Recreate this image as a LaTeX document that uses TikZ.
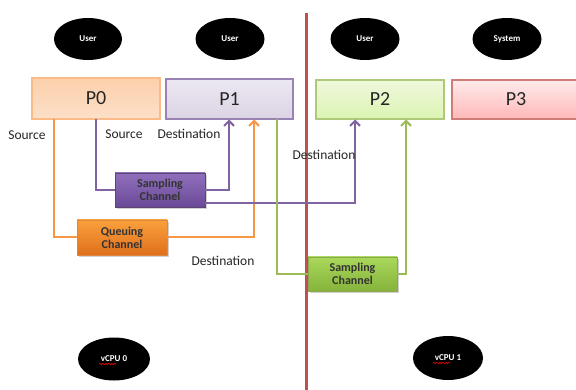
\documentclass[tikz,border=0pt]{standalone}
\usepackage{fontspec}
\setmainfont{Carlito}
\usetikzlibrary{arrows.meta,shapes.geometric,shadows,decorations.pathmorphing}
\definecolor{orgline}{HTML}{F79646}
\definecolor{purline}{HTML}{8064A2}
\definecolor{grnline}{HTML}{9BBB59}
\definecolor{redline}{HTML}{C0504D}
\definecolor{ptwotop}{HTML}{EEF8DC}
\definecolor{ptwobot}{HTML}{DCF4B2}
\definecolor{gchtop}{HTML}{A9D85A}
\definecolor{gchbot}{HTML}{86B33C}
\definecolor{ochtop}{HTML}{FAA03C}
\definecolor{ochbot}{HTML}{DF6F1C}
\definecolor{pchtop}{HTML}{9070BC}
\definecolor{pchbot}{HTML}{6A4A96}
\tikzset{
  x=1pt, y=-1pt,
  cpu/.style={ellipse, fill=black, text=white, font=\bfseries\fontsize{9}{10}\selectfont, inner sep=0pt},
  part/.style={draw, line width=1.2pt, inner sep=0pt, font=\fontsize{20}{22}\selectfont, text=black!85},
  chan/.style={draw, line width=0.8pt, inner sep=0pt, font=\bfseries\fontsize{12}{13}\selectfont, align=center,
    text=black!80, drop shadow={shadow xshift=1.5pt, shadow yshift=-1.8pt, opacity=0.35}},
  link/.style={line width=2pt},
  tip/.style={-{Straight Barb[length=5pt,width=10pt,line width=2pt]}},
  lbl/.style={font=\fontsize{13.5}{14}\selectfont, text=black!85, inner sep=0pt},
  squiggle/.style={red!85!black, line width=0.7pt, decorate,
    decoration={snake, amplitude=0.8pt, segment length=3pt}}
}
\begin{document}
\begin{tikzpicture}
\useasboundingbox (0,0) rectangle (576,390);
\fill[white] (0,0) rectangle (576,390);

% core ownership ellipses
\node[cpu, minimum width=68pt, minimum height=42pt] (u0) at (88,39) {User};
\node[cpu, minimum width=69pt, minimum height=42pt] (u1) at (230,39) {User};
\node[cpu, minimum width=69pt, minimum height=42pt] (u2) at (365,39) {User};
\node[cpu, minimum width=69pt, minimum height=42pt] (u3) at (507,39) {System};

% partitions
\node[part, draw=orgline!65, top color=orgline!45, bottom color=orgline!30,
  minimum width=128pt, minimum height=41pt] (p0) at (96,98.5) {P0};
\node[part, draw=purline!80, top color=purline!15, bottom color=purline!28,
  minimum width=127pt, minimum height=40pt] (p1) at (229.5,99) {P1};
\node[part, draw=grnline!80, top color=ptwotop, bottom color=ptwobot,
  minimum width=128pt, minimum height=39pt] (p2) at (380,99.5) {P2};
\node[part, draw=redline!75, top color=red!8, bottom color=red!28,
  minimum width=128pt, minimum height=39pt] (p3) at (516,99.5) {P3};

% CPU divider
\draw[redline, line width=3pt] (306,13) -- (306,390);

% channels
\node[chan, draw=purline!70!black, top color=pchtop, bottom color=pchbot,
  minimum width=90pt, minimum height=34pt] (sc1) at (160,190) {Sampling\\Channel};
\node[chan, draw=orgline!90!black, top color=ochtop, bottom color=ochbot,
  minimum width=90pt, minimum height=35pt] (qc) at (122,237.5) {Queuing\\Channel};
\node[chan, draw=grnline!90!black, top color=gchtop, bottom color=gchbot,
  minimum width=89pt, minimum height=34pt] (sc2) at (352.5,274) {Sampling\\Channel};

% route points
\coordinate (a0) at (54,119.5);
\coordinate (a1) at (96,119.5);
\coordinate (b1) at (229,119.5);
\coordinate (b2) at (254,119.5);
\coordinate (b3) at (277,119.5);
\coordinate (c1) at (355,119.5);
\coordinate (c2) at (406,119.5);

% links
\draw[link, orgline] (a0) |- (qc.west);
\draw[link, orgline, tip] (qc.east) -| (b2);
\draw[link, purline] (a1) |- (sc1.west);
\draw[link, purline, tip] (sc1.east) -| (b1);
\draw[link, purline, tip] (sc1.east |- 0,203) -| (c1);
\draw[link, grnline] (b3) |- (sc2.west);
\draw[link, grnline, tip] (sc2.east) -| (c2);

% labels
\node[lbl] (s0) at (27,135) {Source};
\node[lbl] (s1) at (124,134.5) {Source};
\node[lbl] (d1) at (189,134) {Destination};
\node[lbl] (d2) at (324,155) {Destination};
\node[lbl] (d3) at (223,261) {Destination};

% vCPU ellipses
\node[cpu, minimum width=72pt, minimum height=43pt] (v0) at (114,359) {vCPU 0};
\node[cpu, minimum width=70pt, minimum height=44pt] (v1) at (448,358) {vCPU 1};
\draw[squiggle] ([xshift=-15pt,yshift=-5pt]v0.center) -- ([xshift=2pt,yshift=-5pt]v0.center);
\draw[squiggle] ([xshift=-15pt,yshift=-5pt]v1.center) -- ([xshift=2pt,yshift=-5pt]v1.center);
\end{tikzpicture}
\end{document}
